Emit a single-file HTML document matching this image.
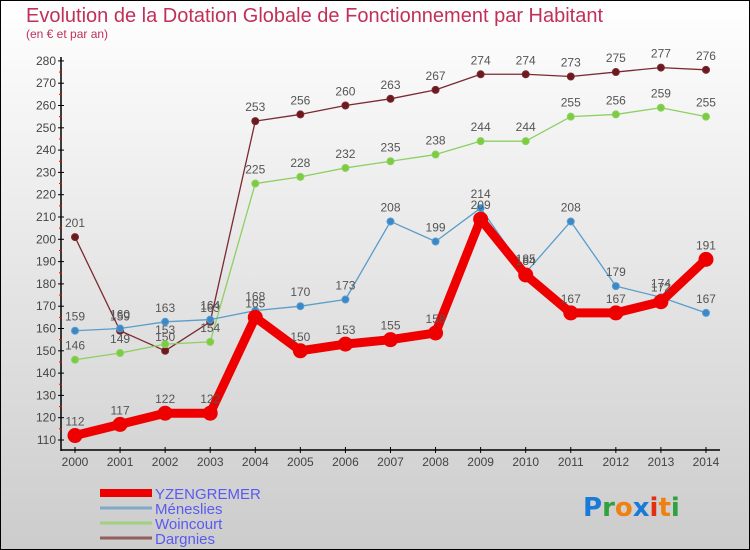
<!DOCTYPE html>
<html><head><meta charset="utf-8"><style>
body{margin:0}
#c{width:750px;height:550px;position:relative;box-sizing:border-box;border:1px solid #000;background:linear-gradient(#ffffff,#cccccc);font-family:"Liberation Sans",sans-serif;overflow:hidden}
</style></head><body>
<div id="c">
<svg id="s" width="750" height="550" style="position:absolute;left:-1px;top:-1px">
<text x="26" y="22" font-size="20" fill="#c0305a">Evolution de la Dotation Globale de Fonctionnement par Habitant</text>
<text x="26" y="38" font-size="12" fill="#c0305a">(en € et par an)</text>
</svg>
</div>
<script>
const years=[2000,2001,2002,2003,2004,2005,2006,2007,2008,2009,2010,2011,2012,2013,2014];
const yzengremer=[112,117,122,122,165,150,153,155,158,209,184,167,167,172,191];
const meneslies=[159,160,163,164,168,170,173,208,199,214,185,208,179,174,167];
const woincourt=[146,149,153,154,225,228,232,235,238,244,244,255,256,259,255];
const dargnies=[201,159,150,163,253,256,260,263,267,274,274,273,275,277,276];
const yTicks=[110,120,130,140,150,160,170,180,190,200,210,220,230,240,250,260,270,280];
const NS="http://www.w3.org/2000/svg",s=document.getElementById('s');
const X=i=>75+i*45.07, Y=v=>440-(v-110)*2.23;
function el(t,a,p){const e=document.createElementNS(NS,t);for(const k in a)e.setAttribute(k,a[k]);(p||s).appendChild(e);return e;}
let e;
e=el('line',{x1:61,y1:57,x2:61,y2:451,stroke:'#000','stroke-width':1.5});

e=el('line',{x1:61,y1:450,x2:720,y2:450,stroke:'#000','stroke-width':1.5});

yTicks.forEach(v=>{el('line',{x1:58,y1:Y(v),x2:64,y2:Y(v),stroke:'#000'});
 if(v<280)el('line',{x1:59,y1:Y(v+5),x2:62,y2:Y(v+5),stroke:'#f00'});
 e=el('text',{x:56,y:Y(v)+4,'font-size':12,fill:'#444','text-anchor':'end'});e.textContent=v;
 });
years.forEach((y,i)=>{el('line',{x1:X(i),y1:447,x2:X(i),y2:453,stroke:'#000'});
 e=el('text',{x:X(i),y:466,'font-size':12,fill:'#444','text-anchor':'middle'});e.textContent=y;
 });
function series(d,col,fill,w,r,name){
 e=el('polyline',{points:d.map((v,i)=>X(i)+','+Y(v)).join(' '),fill:'none',stroke:col,'stroke-width':w,'stroke-linejoin':'round'});
 
 d.forEach((v,i)=>{e=el('circle',{cx:X(i),cy:Y(v),r:r,fill:fill,stroke:col,'stroke-width':1});
  
  e=el('text',{x:X(i),y:Y(v)-10,'font-size':12,fill:'#555','text-anchor':'middle'});e.textContent=v;
  });
}
series(dargnies,'#7a2a30','#6b1a20',1.3,3.5,'dargnies');
series(woincourt,'#8cd060','#7ccc40',1.3,3.5,'woincourt');
series(meneslies,'#5a9ccc','#3a88c8',1.3,3.5,'meneslies');
series(yzengremer,'#ee0000','#ee0000',9,7,'yzengremer');
const leg=[['YZENGREMER','#ee0000',8],['Méneslies','#80a8c8',3],['Woincourt','#a0d080',3],['Dargnies','#906060',3]];
leg.forEach((l,i)=>{const y=493+i*15;
 e=el('line',{x1:100,y1:y,x2:152,y2:y,stroke:l[1],'stroke-width':l[2]});
 
 e=el('text',{x:155,y:y+6,'font-size':15,fill:'#5a5af0'});e.textContent=l[0];
 });
e=el('text',{x:583,y:516,'font-size':26,'font-weight':'bold','font-family':'"DejaVu Sans",sans-serif'});

[['P','#1a7ad8'],['r','#30a040'],['o','#f08010'],['x','#1a7ad8'],['i','#e03010'],['t','#f08010'],['i','#30a040']].forEach(c=>{const t=el('tspan',{fill:c[1]},e);t.textContent=c[0];});
</script>
</body></html>
